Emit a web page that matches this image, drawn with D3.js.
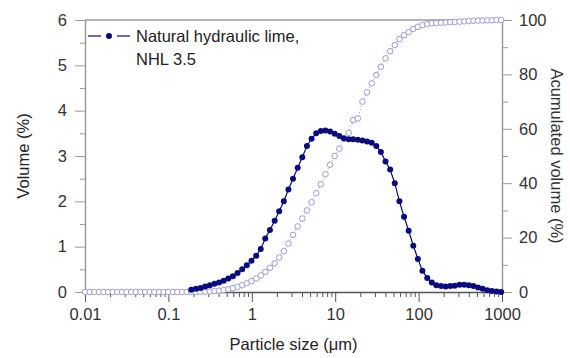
<!DOCTYPE html>
<html>
<head>
<meta charset="utf-8">
<script src="https://cdn.jsdelivr.net/npm/d3@7"></script>
<style>
  body { margin: 0; background: #fff; }
  text { font-family: "Liberation Sans", Arial, sans-serif; }
</style>
</head>
<body>
<svg id="chart" width="570" height="358"></svg>
<script>
// particle size classes (um)
const sizes = [
  0.0100, 0.0114, 0.0129, 0.0147, 0.0167, 0.0189, 0.0215, 0.0244, 0.0278, 0.0315,
  0.0358, 0.0407, 0.0463, 0.0526, 0.0597, 0.0679, 0.0771, 0.0876, 0.0995,
  0.113, 0.128, 0.146, 0.166, 0.188, 0.214, 0.243, 0.276, 0.314, 0.357, 0.405,
  0.460, 0.523, 0.594, 0.675, 0.767, 0.872, 0.991,
  1.13, 1.28, 1.45, 1.65, 1.88, 2.13, 2.42, 2.75, 3.12, 3.55, 4.03, 4.58, 5.21,
  5.92, 6.72, 7.64, 8.68, 9.86,
  11.2, 12.7, 14.5, 16.4, 18.7, 21.2, 24.1, 27.4, 31.1, 35.3, 40.1, 45.6, 51.8,
  58.9, 66.9, 76.0, 86.4, 98.1,
  111, 127, 144, 163, 186, 211, 240, 272, 310, 352, 400, 454, 516, 586, 666,
  756, 859, 976
];

// volume (%) per class, null where no point is plotted
const volume = [
  null, null, null, null, null, null, null, null, null, null,
  null, null, null, null, null, null, null, null, null,
  null, null, null, null, 0.05, 0.07, 0.09, 0.12, 0.15, 0.18, 0.21,
  0.25, 0.30, 0.35, 0.42, 0.50, 0.59, 0.69,
  0.80, 0.95, 1.18, 1.37, 1.57, 1.78, 2.00, 2.26, 2.50, 2.74, 2.97, 3.22, 3.38,
  3.50, 3.55, 3.56, 3.54, 3.49,
  3.44, 3.39, 3.37, 3.37, 3.36, 3.34, 3.32, 3.29, 3.22, 3.09, 2.88, 2.70, 2.40,
  2.00, 1.66, 1.35, 1.02, 0.73,
  0.47, 0.31, 0.21, 0.15, 0.13, 0.12, 0.13, 0.14, 0.16, 0.16, 0.15, 0.13, 0.10,
  0.07, 0.04, 0.02, 0.01, 0.0
];

// accumulated volume (%)
const cumulative = [
  0, 0, 0, 0, 0, 0, 0, 0, 0, 0,
  0, 0, 0, 0, 0, 0, 0, 0, 0,
  0, 0, 0, 0, 0, 0, 0.05, 0.1, 0.2, 0.35, 0.5,
  0.7, 1.0, 1.4, 1.9, 2.5, 3.2, 4.0,
  5.0, 6.1, 7.4, 8.9, 10.6, 12.7, 15.0, 17.8, 21.0, 24.1, 27.0, 30.0, 33.0,
  36.3, 39.6, 43.3, 46.8, 50.0,
  52.7, 56.3, 58.5, 63.2, 63.8, 70.0, 73.4, 76.7, 79.8, 82.8, 85.9, 88.5, 90.8,
  93.0, 94.4, 95.5, 96.7, 97.5,
  98.1, 98.5, 98.8, 98.9, 99.0, 99.1, 99.2, 99.3, 99.4, 99.5, 99.6, 99.7, 99.8,
  99.8, 99.9, 99.9, 100, 100
];

const xTicks = [0.01, 0.1, 1, 10, 100, 1000];
const xTickLabels = ['0.01', '0.1', '1', '10', '100', '1000'];
const yTicks = [0, 1, 2, 3, 4, 5, 6];
const y2Ticks = [0, 20, 40, 60, 80, 100];

const seriesName = ['Natural hydraulic lime,', 'NHL 3.5'];

const mLeft = 85, mRight = 502, mTop = 20, mBottom = 292;
const navy = '#0a0a80', lilac = '#9a9ad6', axisGray = '#9a9a9a', textCol = '#333';

const svg = d3.select('#chart');

const x = d3.scaleLog().domain([0.01, 1000]).range([mLeft, mRight]);
const y = d3.scaleLinear().domain([0, 6]).range([mBottom, mTop]);
const y2 = d3.scaleLinear().domain([0, 100]).range([mBottom, mTop]);

// frame top line
svg.append('line')
  .attr('x1', mLeft).attr('x2', mRight).attr('y1', mTop).attr('y2', mTop)
  .attr('stroke', axisGray).attr('stroke-width', 1.5);

// minor ticks
let minorX = [];
xTicks.slice(0, -1).forEach(t => { for (let k = 2; k <= 9; k++) minorX.push(t * k); });

function styleAxis(g, col) {
  g.select('.domain').attr('stroke', col).attr('stroke-width', 1.5);
  g.selectAll('.tick line').attr('stroke', col).attr('stroke-width', 1);
  g.selectAll('.tick text').attr('fill', textCol).style('font-size', '16.5px');
}

svg.append('g').attr('transform', `translate(0,${mBottom})`)
  .call(d3.axisBottom(x).tickValues(minorX).tickSize(5).tickFormat(''))
  .call(g => { g.select('.domain').remove(); g.selectAll('.tick line').attr('stroke', '#555'); });

svg.append('g').attr('transform', `translate(0,${mBottom})`)
  .call(d3.axisBottom(x).tickValues(xTicks).tickSize(10).tickSizeOuter(0).tickPadding(6)
    .tickFormat((d, i) => xTickLabels[i]))
  .call(g => styleAxis(g, '#555'));

svg.append('g').attr('transform', `translate(${mLeft},0)`)
  .call(d3.axisLeft(y).tickValues(d3.range(0.5, 6, 1)).tickSize(5).tickFormat(''))
  .call(g => { g.select('.domain').remove(); g.selectAll('.tick line').attr('stroke', axisGray); });

svg.append('g').attr('transform', `translate(${mLeft},0)`)
  .call(d3.axisLeft(y).tickValues(yTicks).tickSize(10).tickSizeOuter(0).tickPadding(8)
    .tickFormat(d3.format('d')))
  .call(g => styleAxis(g, axisGray));

svg.append('g').attr('transform', `translate(${mRight},0)`)
  .call(d3.axisRight(y2).tickValues(d3.range(10, 100, 20)).tickSize(6).tickFormat(''))
  .call(g => { g.select('.domain').remove(); g.selectAll('.tick line').attr('stroke', axisGray); });

svg.append('g').attr('transform', `translate(${mRight},0)`)
  .call(d3.axisRight(y2).tickValues(y2Ticks).tickSize(10).tickSizeOuter(0).tickPadding(7)
    .tickFormat(d3.format('d')))
  .call(g => styleAxis(g, axisGray));

// cumulative series
const cumData = sizes.map((s, i) => [s, cumulative[i]]);
svg.append('path')
  .datum(cumData)
  .attr('fill', 'none').attr('stroke', lilac).attr('stroke-width', 1)
  .attr('stroke-dasharray', '1,2')
  .attr('d', d3.line().x(d => x(d[0])).y(d => y2(d[1])));
svg.append('g').selectAll('circle')
  .data(cumData).enter().append('circle')
  .attr('cx', d => x(d[0])).attr('cy', d => y2(d[1])).attr('r', 2.8)
  .attr('fill', '#fff').attr('stroke', lilac).attr('stroke-width', 1);

// volume series
const volData = sizes.map((s, i) => [s, volume[i]]).filter(d => d[1] !== null);
svg.append('path')
  .datum(volData)
  .attr('fill', 'none').attr('stroke', navy).attr('stroke-width', 1.2)
  .attr('d', d3.line().x(d => x(d[0])).y(d => y(d[1])));
svg.append('g').selectAll('circle')
  .data(volData).enter().append('circle')
  .attr('cx', d => x(d[0])).attr('cy', d => y(d[1])).attr('r', 3)
  .attr('fill', navy);

// legend
const lg = svg.append('g');
lg.append('line').attr('x1', 88).attr('x2', 101).attr('y1', 36).attr('y2', 36)
  .attr('stroke', navy).attr('stroke-width', 1.2);
lg.append('line').attr('x1', 117).attr('x2', 130).attr('y1', 36).attr('y2', 36)
  .attr('stroke', navy).attr('stroke-width', 1.2);
lg.append('circle').attr('cx', 109).attr('cy', 36).attr('r', 3).attr('fill', navy);
lg.selectAll('text').data(seriesName).enter().append('text')
  .attr('x', 136).attr('y', (d, i) => 42 + i * 22.5)
  .attr('fill', '#222').style('font-size', '16.5px')
  .text(d => d);

// axis titles
svg.append('text')
  .attr('x', (mLeft + mRight) / 2).attr('y', 350).attr('text-anchor', 'middle')
  .attr('fill', '#222').style('font-size', '16.5px')
  .text('Particle size (μm)');
svg.append('text')
  .attr('transform', `translate(29,${(mTop + mBottom) / 2}) rotate(-90)`)
  .attr('text-anchor', 'middle')
  .attr('fill', '#222').style('font-size', '16.5px')
  .text('Volume (%)');
svg.append('text')
  .attr('transform', `translate(551,${(mTop + mBottom) / 2}) rotate(90)`)
  .attr('text-anchor', 'middle')
  .attr('fill', '#333').style('font-size', '16.5px')
  .text('Acumulated volume (%)');
</script>
</body>
</html>
